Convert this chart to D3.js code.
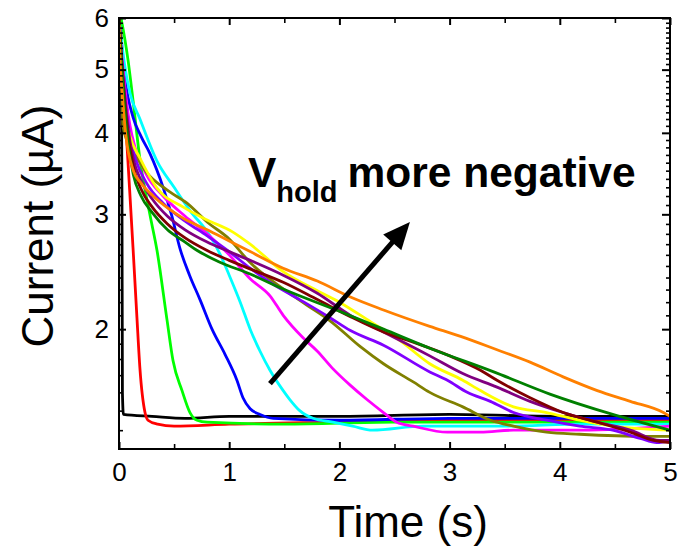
<!DOCTYPE html>
<meta charset="utf-8">
<style>
body { margin: 0; background: #fff; }
svg { font-family: "Liberation Sans", Arial, sans-serif; }
</style>
<svg width="684" height="549"></svg>
<script src="https://d3js.org/d3.v7.min.js"></script>
<script>
// current traces: [time (s), current (uA)]
var black = [[0, 6.0], [0.02, 5.4], [0.027, 3.2], [0.031, 1.6], [0.04, 1.48], [0.3, 1.47], [0.6, 1.46], [1, 1.47], [2, 1.47], [3, 1.48], [4, 1.47], [5, 1.47]];
var red = [[0, 6.1], [0.01, 6.0], [0.045, 4.6], [0.082, 3.6], [0.127, 2.67], [0.163, 2.08], [0.19, 1.74], [0.236, 1.49], [0.263, 1.45], [0.35, 1.43], [0.5, 1.42], [1, 1.43], [2, 1.44], [3, 1.45], [4, 1.45], [5, 1.45]];
var green = [[0, 6.2], [0.018, 6.0], [0.082, 5.17], [0.127, 4.49], [0.19, 3.64], [0.28, 3.0], [0.345, 2.64], [0.435, 2.07], [0.49, 1.79], [0.572, 1.61], [0.644, 1.49], [0.708, 1.45], [0.8, 1.44], [1.5, 1.43], [2.5, 1.44], [3.5, 1.44], [5, 1.44]];
var blue = [[0, 6.0], [0.02, 5.5], [0.05, 4.9], [0.127, 4.23], [0.2, 3.95], [0.28, 3.72], [0.4, 3.3], [0.48, 2.98], [0.553, 2.66], [0.64, 2.42], [0.735, 2.22], [0.844, 2.0], [0.962, 1.83], [1.07, 1.67], [1.125, 1.57], [1.19, 1.51], [1.28, 1.48], [1.4, 1.46], [2, 1.45], [3, 1.46], [4, 1.46], [5, 1.46]];
var cyan = [[0, 6.0], [0.02, 5.6], [0.05, 5.1], [0.1, 4.6], [0.19, 4.2], [0.345, 3.62], [0.5, 3.3], [0.644, 3.04], [0.826, 2.78], [0.92, 2.6], [1.0, 2.42], [1.1, 2.2], [1.19, 2.0], [1.28, 1.85], [1.37, 1.73], [1.49, 1.61], [1.55, 1.56], [1.64, 1.5], [1.76, 1.46], [1.94, 1.44], [2.12, 1.42], [2.3, 1.4], [2.76, 1.42], [3.5, 1.42], [4.2, 1.43], [5, 1.43]];
var magenta = [[0, 6.0], [0.02, 5.4], [0.05, 4.75], [0.1, 4.1], [0.15, 3.78], [0.25, 3.45], [0.4, 3.2], [0.6, 2.98], [0.8, 2.8], [1.0, 2.6], [1.19, 2.39], [1.37, 2.25], [1.49, 2.1], [1.67, 1.94], [1.8, 1.85], [1.94, 1.74], [2.1, 1.64], [2.25, 1.56], [2.4, 1.49], [2.52, 1.44], [2.67, 1.42], [2.98, 1.39], [3.28, 1.39], [3.58, 1.4], [4.2, 1.4], [5, 1.42]];
var olive = [[0, 6.0], [0.02, 5.0], [0.036, 4.1], [0.1, 3.8], [0.163, 3.66], [0.25, 3.48], [0.435, 3.27], [0.617, 3.12], [0.8, 2.92], [1.0, 2.75], [1.19, 2.53], [1.5, 2.3], [1.7, 2.18], [1.915, 2.06], [2.19, 1.88], [2.4, 1.77], [2.67, 1.66], [2.82, 1.6], [3.12, 1.52], [3.37, 1.45], [3.58, 1.42], [3.88, 1.39], [4.18, 1.38], [4.79, 1.37], [5, 1.37]];
var violet = [[0, 6.0], [0.02, 5.3], [0.05, 4.6], [0.1, 3.95], [0.15, 3.65], [0.25, 3.35], [0.4, 3.12], [0.6, 2.93], [0.8, 2.78], [1.0, 2.63], [1.19, 2.48], [1.37, 2.36], [1.64, 2.22], [1.9, 2.09], [2.1, 1.99], [2.4, 1.89], [2.82, 1.72], [2.98, 1.67], [3.16, 1.6], [3.37, 1.55], [3.58, 1.49], [3.88, 1.45], [4.18, 1.42], [4.48, 1.4], [4.73, 1.36], [4.88, 1.34], [5, 1.35]];
var yellow = [[0, 6.0], [0.02, 5.0], [0.036, 4.5], [0.1, 3.95], [0.19, 3.66], [0.345, 3.29], [0.58, 3.08], [0.8, 2.94], [1.03, 2.82], [1.19, 2.7], [1.49, 2.45], [1.8, 2.29], [2.0, 2.2], [2.25, 2.07], [2.55, 1.92], [2.82, 1.77], [3.12, 1.67], [3.28, 1.61], [3.58, 1.52], [3.88, 1.49], [4.18, 1.45], [4.48, 1.42], [5, 1.4]];
var purple = [[0, 6.0], [0.02, 5.3], [0.05, 4.6], [0.08, 4.1], [0.13, 3.65], [0.2, 3.38], [0.3, 3.17], [0.44, 2.98], [0.6, 2.84], [0.8, 2.72], [1.0, 2.63], [1.19, 2.55], [1.49, 2.42], [1.8, 2.27], [2.1, 2.1], [2.4, 1.98], [2.82, 1.82], [3.12, 1.71], [3.43, 1.63], [3.73, 1.55], [4.03, 1.49], [4.34, 1.44], [4.64, 1.4], [4.91, 1.35], [5, 1.35]];
var maroon = [[0, 6.0], [0.02, 5.3], [0.05, 4.5], [0.08, 4.0], [0.13, 3.55], [0.2, 3.28], [0.3, 3.08], [0.44, 2.9], [0.6, 2.76], [0.8, 2.64], [1.0, 2.55], [1.2, 2.47], [1.49, 2.36], [1.8, 2.22], [2.1, 2.09], [2.4, 1.98], [2.67, 1.91], [3.0, 1.82], [3.28, 1.73], [3.43, 1.67], [3.73, 1.57], [4.03, 1.49], [4.34, 1.44], [4.64, 1.39], [4.85, 1.35], [5, 1.34]];
var darkGreen = [[0, 6.0], [0.02, 5.2], [0.05, 4.4], [0.08, 3.9], [0.13, 3.45], [0.2, 3.2], [0.3, 3.02], [0.44, 2.84], [0.6, 2.72], [0.71, 2.64], [0.9, 2.54], [1.19, 2.43], [1.5, 2.3], [2.0, 2.13], [2.4, 2.0], [2.82, 1.87], [3.4, 1.72], [3.91, 1.59], [4.48, 1.48], [5, 1.4]];
var orange = [[0, 6.0], [0.01, 5.2], [0.03, 4.6], [0.06, 4.0], [0.13, 3.5], [0.2, 3.35], [0.31, 3.2], [0.45, 3.06], [0.58, 2.96], [0.8, 2.84], [1.0, 2.73], [1.19, 2.63], [1.49, 2.48], [1.8, 2.37], [2.1, 2.24], [2.4, 2.14], [2.82, 2.02], [3.1, 1.95], [3.43, 1.86], [3.73, 1.78], [4.03, 1.69], [4.34, 1.61], [4.64, 1.55], [4.94, 1.49], [5, 1.47]];

var traces = [
    { color: "#000000", values: black },
    { color: "#ff0000", values: red },
    { color: "#00ff00", values: green },
    { color: "#0000ff", values: blue },
    { color: "#00ffff", values: cyan },
    { color: "#ff00ff", values: magenta },
    { color: "#808000", values: olive },
    { color: "#8000ff", values: violet },
    { color: "#ffff00", values: yellow },
    { color: "#800080", values: purple },
    { color: "#800000", values: maroon },
    { color: "#008000", values: darkGreen },
    { color: "#ff8000", values: orange }
];

var xTicks = [0, 1, 2, 3, 4, 5];
var yTicks = [2, 3, 4, 5, 6];

// arrow + label, in data units
var arrowFrom = [1.37, 1.65];
var arrowTo = [2.64, 2.92];
var labelAt = [1.17, 3.3];

var svg = d3.select("svg");
var plotLeft = 119, plotRight = 670, plotTop = 18, plotBottom = 449;

var x = d3.scaleLinear().domain([0, 5]).range([plotLeft, plotRight]);
var y = d3.scaleLog().domain([1.31, 6]).range([plotBottom, plotTop]);

var xMinor = d3.range(0.5, 5, 1);
var yMinor = d3.range(14, 60).map(function(d) { return d / 10; })
    .filter(function(d) { return yTicks.indexOf(d) < 0; });

svg.append("clipPath").attr("id", "plot-clip")
    .append("rect")
    .attr("x", plotLeft).attr("y", plotTop)
    .attr("width", plotRight - plotLeft).attr("height", plotBottom - plotTop);

var line = d3.line()
    .x(function(d) { return x(d[0]); })
    .y(function(d) { return y(d[1]); })
    .curve(d3.curveMonotoneX);

svg.append("g")
    .attr("clip-path", "url(#plot-clip)")
    .selectAll("path")
    .data(traces)
    .enter().append("path")
    .attr("fill", "none")
    .attr("stroke", function(d) { return d.color; })
    .attr("stroke-width", 2.8)
    .attr("stroke-linejoin", "round")
    .attr("d", function(d) { return line(d.values); });

function styleAxis(g, w) {
    g.select(".domain").remove();
    g.selectAll("line").attr("stroke-width", w);
    g.selectAll("text").attr("fill", "#000");
    g.attr("font-size", 26).attr("font-family", "Liberation Sans, Arial, sans-serif");
}

// major ticks
svg.append("g").attr("transform", "translate(0," + plotBottom + ")")
    .call(d3.axisBottom(x).tickValues(xTicks).tickFormat(d3.format("d"))
        .tickSizeInner(-7).tickSizeOuter(0).tickPadding(14))
    .call(styleAxis, 2);
svg.append("g").attr("transform", "translate(0," + plotTop + ")")
    .call(d3.axisTop(x).tickValues(xTicks).tickFormat("")
        .tickSizeInner(-7).tickSizeOuter(0))
    .call(styleAxis, 2);
svg.append("g").attr("transform", "translate(" + plotLeft + ",0)")
    .call(d3.axisLeft(y).tickValues(yTicks).tickFormat(d3.format("d"))
        .tickSizeInner(-7).tickSizeOuter(0).tickPadding(10))
    .call(styleAxis, 2);
svg.append("g").attr("transform", "translate(" + plotRight + ",0)")
    .call(d3.axisRight(y).tickValues(yTicks).tickFormat("")
        .tickSizeInner(-8).tickSizeOuter(0))
    .call(styleAxis, 2);

// minor ticks
svg.append("g").attr("transform", "translate(0," + plotBottom + ")")
    .call(d3.axisBottom(x).tickValues(xMinor).tickFormat("").tickSizeInner(-5).tickSizeOuter(0))
    .call(styleAxis, 1.6);
svg.append("g").attr("transform", "translate(0," + plotTop + ")")
    .call(d3.axisTop(x).tickValues(xMinor).tickFormat("").tickSizeInner(-5).tickSizeOuter(0))
    .call(styleAxis, 1.6);
svg.append("g").attr("transform", "translate(" + plotLeft + ",0)")
    .call(d3.axisLeft(y).tickValues(yMinor).tickFormat("").tickSizeInner(-4).tickSizeOuter(0))
    .call(styleAxis, 1.6);
svg.append("g").attr("transform", "translate(" + plotRight + ",0)")
    .call(d3.axisRight(y).tickValues(yMinor).tickFormat("").tickSizeInner(-4).tickSizeOuter(0))
    .call(styleAxis, 1.6);

// frame
svg.append("rect")
    .attr("x", plotLeft).attr("y", plotTop)
    .attr("width", plotRight - plotLeft).attr("height", plotBottom - plotTop)
    .attr("fill", "none").attr("stroke", "#000").attr("stroke-width", 2);

// axis titles
svg.append("text")
    .attr("x", 408).attr("y", 537)
    .attr("text-anchor", "middle")
    .attr("font-size", 44)
    .text("Time (s)");

svg.append("text")
    .attr("transform", "translate(53,226) rotate(-90)")
    .attr("text-anchor", "middle")
    .attr("font-size", 44)
    .text("Current (\u00b5A)");

// annotation arrow
var x0 = x(arrowFrom[0]), y0 = y(arrowFrom[1]);
var x1 = x(arrowTo[0]), y1 = y(arrowTo[1]);
var len = Math.sqrt((x1 - x0) * (x1 - x0) + (y1 - y0) * (y1 - y0));
var ux = (x1 - x0) / len, uy = (y1 - y0) / len;
var headLen = 27, headHalf = 12;
var bx = x1 - ux * headLen, by = y1 - uy * headLen;

svg.append("line")
    .attr("x1", x0).attr("y1", y0)
    .attr("x2", bx + ux * 2).attr("y2", by + uy * 2)
    .attr("stroke", "#000").attr("stroke-width", 5);

svg.append("path")
    .attr("d", "M" + x1 + "," + y1 +
        "L" + (bx - uy * headHalf) + "," + (by + ux * headHalf) +
        "L" + (bx + uy * headHalf) + "," + (by - ux * headHalf) + "Z")
    .attr("fill", "#000");

var label = svg.append("text")
    .attr("x", x(labelAt[0])).attr("y", y(labelAt[1]))
    .attr("font-weight", "bold")
    .attr("font-size", 42.5);
label.append("tspan").text("V");
label.append("tspan").attr("font-size", 29).attr("dy", 15).text("hold");
label.append("tspan").attr("dy", -15).attr("dx", 10).text("more negative");
</script>
